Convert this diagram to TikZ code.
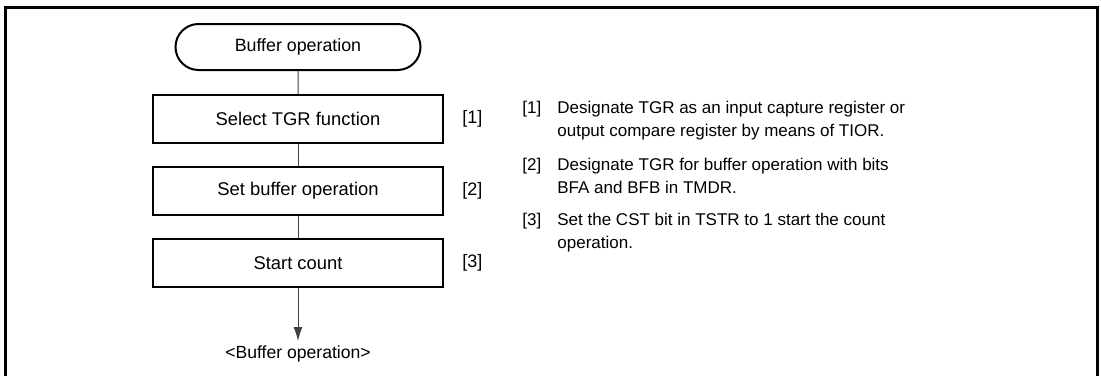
\documentclass[tikz,border=0pt]{standalone}
\usepackage{fontspec}
\setmainfont{Liberation Sans}
\usetikzlibrary{arrows.meta,shapes.misc}
\begin{document}
\begin{tikzpicture}[x=0.5pt, y=-0.5pt, font=\fontsize{8.5}{11.5}\selectfont,
  stepbox/.style={draw, line width=1pt, minimum width=145pt, minimum height=24pt, inner sep=0pt, font=\fontsize{9.2}{11}\selectfont},
  termbox/.style={draw, line width=1pt, rounded rectangle, minimum width=122.5pt, minimum height=23pt, inner sep=0pt, font=\fontsize{8.9}{11}\selectfont},
  link/.style={line width=0.5pt, draw=black!75}]
  \useasboundingbox (0,0) rectangle (1101,376);
  \draw[line width=1.5pt] (5,376) -- (5,7) -- (1097.5,7) -- (1097.5,376);
  \node[termbox] (start) at (298,47) {Buffer operation};
  \node[stepbox] (s1) at (298,119) {Select TGR function};
  \node[stepbox] (s2) at (298,191) {Set buffer operation};
  \node[stepbox] (s3) at (298,263) {Start count};
  \node[anchor=west, inner sep=0pt, font=\fontsize{9}{11}\selectfont] (n1) at (462,119) {[1]};
  \node[anchor=west, inner sep=0pt, font=\fontsize{9}{11}\selectfont] (n2) at (462,191) {[2]};
  \node[anchor=west, inner sep=0pt, font=\fontsize{9}{11}\selectfont] (n3) at (462,263) {[3]};
  \node[inner sep=0pt, font=\fontsize{8.8}{11}\selectfont] (end) at (298,354) {<Buffer operation>};
  \coordinate (tip) at (298,341);
  \draw[link] (start) -- (s1);
  \draw[link] (s1) -- (s2);
  \draw[link] (s2) -- (s3);
  \draw[link, -{Latex[length=7pt, width=4.5pt]}] (s3) -- (tip);
  % notes
  \node[anchor=base west, inner sep=0pt] (t1) at (522,113) {[1]};
  \node[anchor=base west, inner sep=0pt, align=left] (d1) at (557,136) {Designate TGR as an input capture register or\\output compare register by means of TIOR.};
  \node[anchor=base west, inner sep=0pt] (t2) at (522,170) {[2]};
  \node[anchor=base west, inner sep=0pt, align=left] (d2) at (557,193) {Designate TGR for buffer operation with bits\\BFA and BFB in TMDR.};
  \node[anchor=base west, inner sep=0pt] (t3) at (522,225) {[3]};
  \node[anchor=base west, inner sep=0pt, align=left] (d3) at (557,248) {Set the CST bit in TSTR to 1 start the count\\operation.};
\end{tikzpicture}
\end{document}
